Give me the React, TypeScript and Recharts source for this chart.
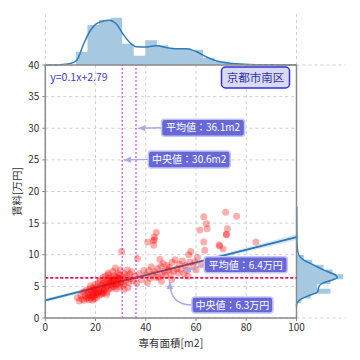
import React from 'react';
import {
  ComposedChart,
  Scatter,
  Line,
  Area,
  XAxis,
  YAxis,
  CartesianGrid,
  ReferenceLine,
  ReferenceDot,
  Label,
} from 'recharts';

const JP = "'Noto Sans CJK JP', 'Noto Sans', sans-serif";

const xTicks = [0, 20, 40, 60, 80, 100];
const yTicks = [0, 5, 10, 15, 20, 25, 30, 35, 40];
const sideTicks = [5, 10, 15, 20, 25, 30, 35, 40];

const meanArea = 36.1;
const medianArea = 30.6;
const meanRent = 6.4;
const medianRent = 6.3;

// [専有面積 m2, 賃料 万円]
const listings: [number, number][] = [
  [12.8, 3.2], [13.5, 2.7], [14.2, 3.6], [14.6, 3.0], [15.1, 4.1], [15.4, 2.8], [15.8, 3.5], [16.2, 4.4], [16.5, 3.1], [16.7, 3.8],
  [17.0, 3.3], [17.2, 4.0], [17.4, 2.9], [17.6, 4.6], [17.8, 3.6], [18.0, 5.1], [18.2, 3.2], [18.4, 4.3], [18.6, 3.8], [18.8, 2.8],
  [19.0, 4.8], [19.2, 3.5], [19.4, 4.1], [19.6, 3.0], [19.8, 5.3], [20.0, 3.7], [20.2, 4.5], [20.4, 3.3], [20.6, 4.9], [20.8, 3.9],
  [21.0, 5.6], [21.2, 4.2], [18.9, 3.4], [20.1, 4.0], [19.5, 4.6],
  [21.5, 3.6], [21.7, 4.8], [21.9, 5.9], [22.1, 4.2], [22.3, 3.8], [22.5, 5.2], [22.7, 4.6], [22.9, 6.4], [23.1, 3.9], [23.3, 5.0],
  [23.5, 4.4], [23.7, 5.7], [23.9, 6.6], [24.1, 4.8], [24.3, 5.4], [24.5, 4.1], [24.7, 6.0], [24.9, 5.1], [25.1, 7.1], [25.3, 4.6],
  [25.5, 5.8], [25.7, 6.3], [25.9, 5.3], [23.0, 5.5], [24.4, 3.7], [22.6, 4.0], [25.0, 6.8],
  [26.1, 5.6], [26.3, 4.7], [26.5, 6.4], [26.7, 5.1], [26.9, 7.4], [27.1, 5.8], [27.3, 4.9], [27.5, 6.7], [27.7, 5.4], [27.9, 7.9],
  [28.1, 6.0], [28.3, 4.6], [28.5, 6.5], [28.7, 5.5], [28.9, 7.0], [29.1, 6.2], [29.3, 5.0], [29.5, 6.8], [29.7, 5.7], [29.9, 7.6],
  [30.1, 6.1], [30.3, 5.4], [30.4, 10.5], [27.0, 6.1], [28.2, 5.2], [29.6, 6.3], [26.6, 5.9],
  [30.8, 6.4], [31.1, 5.2], [31.5, 7.0], [31.9, 5.8], [32.3, 6.6], [32.7, 7.6], [33.1, 5.6], [33.5, 6.9], [33.9, 6.2], [34.4, 7.3],
  [34.9, 5.9], [31.3, 4.5], [32.9, 4.8],
  [35.7, 6.6], [36.4, 5.5], [36.7, 9.4], [37.4, 7.0], [38.3, 6.1], [39.2, 7.5],
  [40.1, 6.8], [40.6, 5.6], [40.8, 12.0], [41.2, 7.5], [41.7, 6.3], [42.2, 8.1], [42.7, 6.9], [43.0, 12.2], [43.2, 11.5], [43.4, 12.8],
  [43.5, 12.4], [44.2, 13.5], [43.7, 7.3], [44.1, 6.4],
  [44.7, 7.8], [45.2, 6.5], [45.6, 9.3], [46.0, 8.2], [46.4, 7.0], [46.9, 8.6], [47.4, 7.4], [47.9, 6.7], [48.4, 8.3], [48.9, 7.6], [46.2, 5.8],
  [49.4, 8.0], [49.9, 6.9], [50.5, 8.8], [51.1, 7.4], [51.7, 9.2], [52.3, 7.8], [52.9, 7.1], [53.3, 8.5], [50.3, 6.1],
  [54.0, 7.7], [54.6, 9.0], [55.2, 7.0], [55.8, 8.3], [56.4, 7.5], [57.1, 10.0], [57.5, 8.8], [57.9, 10.5], [56.8, 6.6],
  [58.8, 8.1], [59.5, 8.9], [60.0, 7.6], [60.6, 9.6], [61.5, 13.9], [62.1, 8.4],
  [63.1, 16.0], [63.1, 12.0], [63.5, 10.7], [64.2, 14.9], [64.4, 14.1], [69.2, 11.6], [69.4, 11.4], [70.8, 10.9], [72.1, 13.2],
  [72.1, 13.2], [71.8, 16.7], [72.5, 14.1], [76.2, 16.1], [83.8, 12.0],
];

// regression line, read at both ends
const regX = [0, 100];
const regY = [2.79, 12.79];
// confidence band
const bandX = [0, 30, 60, 100];
const bandLow = [2.5, 5.65, 8.6, 12.35];
const bandHigh = [3.1, 6.0, 9.0, 13.25];

// top marginal histogram (area) and kde
const topBinEdges = [12.2, 16.8, 21.4, 26.0, 30.6, 35.2, 39.8, 44.4, 49.0, 53.6, 58.2, 62.8, 67.4, 72.0, 76.6, 81.2, 85.8, 90.4];
const topBinHeights = [13.3, 40, 45, 47.3, 21.3, 9.3, 24.7, 19.7, 16.7, 16.7, 15, 7, 3.5, 2, 1.2, 0.8, 0.5];
const topKdeX = [0, 5.8, 9.8, 12.5, 15.1, 17.8, 20.4, 23.1, 25.3, 28.4, 31, 33.7, 36.3, 40.3, 44.3, 48.3, 52.2, 56.2, 60.2, 64.2, 68.2, 72.1, 77.4, 84, 92, 100];
const topKdeH = [0, 0.3, 1.3, 4.7, 20, 34, 41.3, 44, 44.7, 40.7, 30.7, 22.3, 18.3, 18, 19.3, 17.3, 16.3, 16.3, 13.3, 8, 4, 2.3, 1, 0.3, 0.1, 0];

// right marginal histogram (rent) and kde
const rightBinEdges = [2.32, 3.08, 3.85, 4.61, 5.37, 6.14, 6.9, 7.66, 8.43, 9.19, 9.95];
const rightBinWidths = [5, 14, 34, 20.7, 34, 46.7, 36, 27, 15.7, 7.3];
const rightKdeY = [1.8, 2.3, 2.58, 3.1, 3.63, 4.16, 4.95, 5.48, 6.0, 6.42, 6.79, 7.58, 8.37, 9.16, 9.95, 11, 13, 15, 17.6];
const rightKdeW = [0, 0.3, 1.3, 5.7, 14, 21.3, 22.3, 25.7, 35.7, 40.7, 39, 27.3, 17.3, 7.3, 2.3, 0.8, 0.4, 0.3, 0.2];

const scatterData = listings.map(([x, y]) => ({ x, y }));
const regData = regX.map((x, i) => ({ x, y: regY[i] }));
const bandData = bandX.map((x, i) => ({ x, band: [bandLow[i], bandHigh[i]] }));
const topHist = topBinEdges.map((x, i) => ({ x, h: topBinHeights[i] ?? 0 }));
const topKde = topKdeX.map((x, i) => ({ x, h: topKdeH[i] }));
const rightHist = rightBinEdges.map((y, i) => ({ y, w: rightBinWidths[i] ?? 0 }));
const rightKde = rightKdeY.map((y, i) => ({ y, w: rightKdeW[i] }));

const HIST = '#a6c8e1';
const KDE = '#2f7cb8';

const dot = (p: any) => <circle cx={p.cx} cy={p.cy} r={3.5} fill="#ff0000" fillOpacity={0.32} />;

function Callout(props: any) {
  const { cx, cy, text, dx, dy, w, h, curved } = props;
  if (cx == null || cy == null) return null;
  const bx = cx + dx;
  const by = cy + dy;
  const sx = bx;
  const sy = by + h / 2;
  let path: string;
  let ang: number;
  if (curved) {
    path = `M${sx},${sy} Q${cx},${sy} ${cx},${cy}`;
    ang = Math.atan2(cy - sy, 0);
  } else {
    path = `M${sx},${sy} L${cx},${cy}`;
    ang = Math.atan2(cy - sy, cx - sx);
  }
  const hl = 7;
  const hw = 3.2;
  const px = cx - hl * Math.cos(ang);
  const py = cy - hl * Math.sin(ang);
  const nx = -Math.sin(ang) * hw;
  const ny = Math.cos(ang) * hw;
  return (
    <g>
      <path d={path} fill="none" stroke="#a9a9ea" strokeWidth={1.5} />
      <polygon points={`${cx},${cy} ${px + nx},${py + ny} ${px - nx},${py - ny}`} fill="#a9a9ea" />
      <rect x={bx} y={by} width={w} height={h} rx={3} fill="#6767d8" stroke="#c5c5f3" strokeWidth={1.5} />
      <text x={bx + w / 2} y={by + h / 2 + 3.7} textAnchor="middle" fill="#ffffff" fontSize={10} fontFamily={JP}>
        {text}
      </text>
    </g>
  );
}

function EquationText(p: any) {
  return (
    <text x={p.cx + 5} y={p.cy + 16} fill="#3c3cd2" fontSize={10.5} fontFamily={JP}>
      y=0.1x+2.79
    </text>
  );
}

function AreaTag(p: any) {
  const bx = p.cx - 75;
  const by = p.cy + 2;
  return (
    <g>
      <rect x={bx} y={by} width={68} height={21} rx={4} fill="#dadaf3" stroke="#3030e0" strokeWidth={1.5} />
      <text x={bx + 34} y={by + 14.8} textAnchor="middle" fill="#3535a8" fontSize={11.5} fontFamily={JP}>
        京都市南区
      </text>
    </g>
  );
}

const gridColor = '#cfcfcf';
const axisColor = '#8a8a8a';

export default function App() {
  return (
    <div style={{ position: 'absolute', left: 0, top: 0, width: 360, height: 360, background: '#fff', fontFamily: JP }}>
      <div style={{ position: 'absolute', left: 0, top: 0 }}>
        <ComposedChart width={360} height={360} data={topHist} margin={{ top: 14, right: 63.5, bottom: 295, left: 45.3 }}>
          <CartesianGrid horizontal={false} stroke={gridColor} strokeDasharray="3 3" />
          <XAxis type="number" dataKey="x" domain={[0, 100]} ticks={xTicks} height={0} tick={false} axisLine={false} tickLine={false} />
          <YAxis type="number" domain={[0, 51]} hide />
          <Area dataKey="h" type="stepAfter" stroke="none" fill={HIST} fillOpacity={1} isAnimationActive={false} />
          <Line data={topKde} dataKey="h" type="monotone" stroke={KDE} strokeWidth={1.5} dot={false} isAnimationActive={false} />
        </ComposedChart>
      </div>
      <div style={{ position: 'absolute', left: 0, top: 0 }}>
        <ComposedChart width={360} height={360} layout="vertical" data={rightHist} margin={{ top: 65, right: 14.5, bottom: 42, left: 296.5 }}>
          <CartesianGrid vertical={false} stroke={gridColor} strokeDasharray="3 3" />
          <XAxis type="number" domain={[0, 49]} hide />
          <YAxis type="number" dataKey="y" domain={[0, 40]} ticks={sideTicks} reversed width={0} tick={false} axisLine={false} tickLine={false} />
          <Area dataKey="w" type="stepBefore" stroke="none" fill={HIST} fillOpacity={1} isAnimationActive={false} />
          <Line data={rightKde} dataKey="w" type="monotone" stroke={KDE} strokeWidth={1.5} dot={false} isAnimationActive={false} />
        </ComposedChart>
      </div>
      <div style={{ position: 'absolute', left: 0, top: 0 }}>
        <ComposedChart width={360} height={360} data={bandData} margin={{ top: 65, right: 63.5, bottom: 12, left: 9.3 }}>
          <CartesianGrid stroke={gridColor} strokeDasharray="3 3" />
          <XAxis
            type="number"
            dataKey="x"
            domain={[0, 100]}
            ticks={xTicks}
            interval={0}
            height={30}
            tickSize={3}
            tickMargin={3}
            axisLine={{ stroke: axisColor, strokeWidth: 1.5 }}
            tickLine={{ stroke: axisColor }}
            tick={{ fill: '#333', fontSize: 10 }}
          >
            <Label value="専有面積[m2]" position="insideBottom" offset={1} fill="#333" fontSize={10.5} />
          </XAxis>
          <YAxis
            type="number"
            dataKey="y"
            domain={[0, 40]}
            ticks={yTicks}
            interval={0}
            width={36}
            tickSize={3}
            tickMargin={3}
            axisLine={{ stroke: axisColor, strokeWidth: 1.5 }}
            tickLine={{ stroke: axisColor }}
            tick={{ fill: '#333', fontSize: 10 }}
          >
            <Label value="賃料[万円]" angle={-90} position="insideLeft" offset={8} fill="#333" fontSize={10.5} style={{ textAnchor: 'middle' }} />
          </YAxis>
          <ReferenceLine y={40} stroke={axisColor} strokeWidth={1.5} />
          <ReferenceLine x={100} stroke={axisColor} strokeWidth={1.5} />
          <Scatter data={scatterData} shape={dot} isAnimationActive={false} />
          <Area dataKey="band" type="linear" stroke="none" fill={KDE} fillOpacity={0.2} isAnimationActive={false} />
          <Line data={regData} dataKey="y" type="linear" stroke="#2a79b8" strokeWidth={2} dot={false} isAnimationActive={false} />
          <ReferenceLine y={meanRent} stroke="#ee1155" strokeWidth={1.2} strokeDasharray="3 2" />
          <ReferenceLine y={medianRent} stroke="#ee1155" strokeWidth={1.2} strokeDasharray="3 2" />
          <ReferenceLine x={medianArea} stroke="#dd44ee" strokeWidth={1.2} strokeDasharray="2 2" />
          <ReferenceLine x={meanArea} stroke="#dd44ee" strokeWidth={1.2} strokeDasharray="2 2" />
          <ReferenceDot x={0} y={40} r={0} ifOverflow="visible" shape={(p: any) => <EquationText {...p} />} />
          <ReferenceDot x={100} y={40} r={0} ifOverflow="visible" shape={(p: any) => <AreaTag {...p} />} />
          <ReferenceDot x={37.0} y={30.0} r={0} ifOverflow="visible"
            shape={(p: any) => <Callout {...p} text={`平均値：${meanArea}m2`} dx={23.3} dy={-9} w={83} h={17} />} />
          <ReferenceDot x={31.3} y={25.0} r={0} ifOverflow="visible"
            shape={(p: any) => <Callout {...p} text={`中央値：${medianArea}m2`} dx={24.3} dy={-9} w={82} h={17} />} />
          <ReferenceDot x={55.2} y={7.3} r={0} ifOverflow="visible"
            shape={(p: any) => <Callout {...p} text={`平均値：${meanRent}万円`} dx={20.3} dy={-15} w={83} h={16} />} />
          <ReferenceDot x={49.6} y={5.7} r={0} ifOverflow="visible"
            shape={(p: any) => <Callout {...p} text={`中央値：${medianRent}万円`} dx={22} dy={15} w={81} h={16} curved />} />
        </ComposedChart>
      </div>
    </div>
  );
}
